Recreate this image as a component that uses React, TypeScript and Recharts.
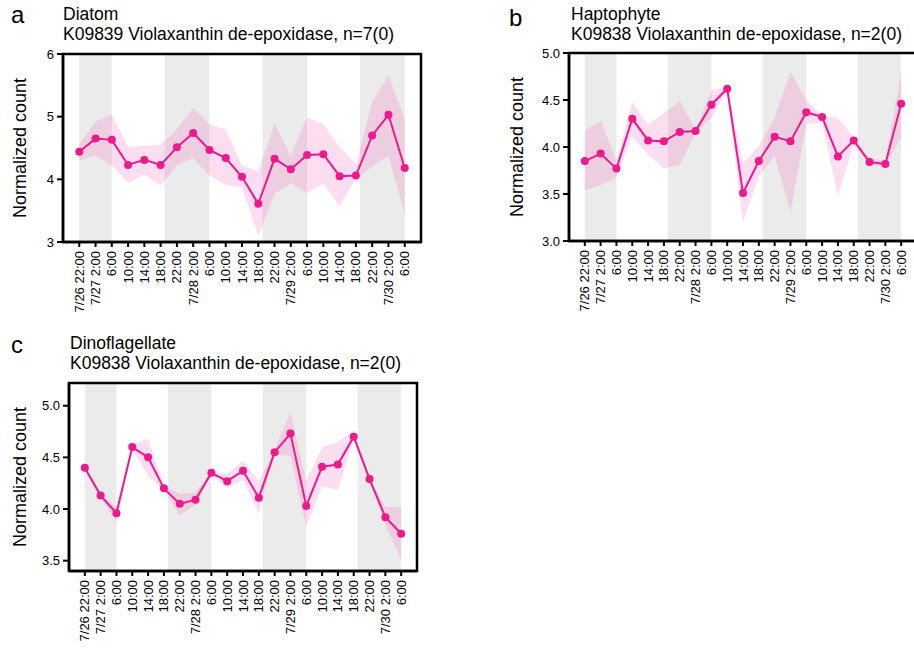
import React from 'react';
import { ComposedChart, Area, Line, XAxis, YAxis, ReferenceArea } from 'recharts';

const FONT = '"Liberation Sans", Arial, Helvetica, sans-serif';
const LINE_COLOR = '#EE1A8C';
const RIBBON_COLOR = '#F555B4';
const NIGHT_COLOR = '#EBEBEB';

// hours since 7/26 22:00
const hours = [0, 4, 8, 12, 16, 20, 24, 28, 32, 36, 40, 44, 48, 52, 56, 60, 64, 68, 72, 76, 80];
const tickLabels = [
  '7/26 22:00', '7/27 2:00', '6:00', '10:00', '14:00', '18:00',
  '22:00', '7/28 2:00', '6:00', '10:00', '14:00', '18:00',
  '22:00', '7/29 2:00', '6:00', '10:00', '14:00', '18:00',
  '22:00', '7/30 2:00', '6:00',
];
const nightStarts = [0, 21, 45, 69];
const nightEnds = [8, 32, 56, 80];

const diatomMean = [4.44, 4.65, 4.63, 4.23, 4.31, 4.23, 4.51, 4.74, 4.47, 4.34, 4.04, 3.61, 4.33, 4.16, 4.39, 4.40, 4.05, 4.06, 4.70, 5.03, 4.18];
const diatomLow = [4.30, 4.38, 4.22, 3.94, 4.07, 3.90, 4.23, 4.34, 4.06, 3.91, 3.87, 3.10, 3.77, 3.94, 3.78, 3.93, 3.58, 4.01, 4.20, 4.38, 3.46];
const diatomHigh = [4.56, 4.92, 5.03, 4.52, 4.53, 4.55, 4.80, 5.14, 4.88, 4.79, 4.22, 4.13, 4.88, 4.38, 4.99, 4.88, 4.52, 4.24, 5.23, 5.66, 4.95];

const haptoMean = [3.85, 3.93, 3.77, 4.30, 4.07, 4.06, 4.16, 4.17, 4.45, 4.62, 3.51, 3.85, 4.11, 4.06, 4.37, 4.32, 3.90, 4.07, 3.84, 3.82, 4.46];
const haptoLow = [3.54, 3.59, 3.68, 4.11, 3.92, 3.77, 3.81, 4.15, 4.31, 4.61, 3.20, 3.69, 3.91, 3.31, 4.24, 4.26, 3.48, 4.02, 3.81, 3.79, 4.11];
const haptoHigh = [4.17, 4.28, 3.85, 4.48, 4.24, 4.36, 4.49, 4.18, 4.60, 4.64, 3.83, 4.01, 4.31, 4.80, 4.50, 4.33, 4.31, 4.10, 3.88, 3.85, 4.79];

const dinoMean = [4.40, 4.13, 3.96, 4.60, 4.50, 4.20, 4.05, 4.09, 4.35, 4.27, 4.37, 4.11, 4.55, 4.73, 4.03, 4.41, 4.43, 4.70, 4.29, 3.92, 3.76];
const dinoLow = [4.39, 4.11, 3.88, 4.58, 4.32, 4.18, 3.94, 4.04, 4.33, 4.20, 4.28, 3.96, 4.53, 4.51, 3.83, 4.22, 4.18, 4.69, 4.27, 3.85, 3.51];
const dinoHigh = [4.41, 4.14, 4.02, 4.63, 4.68, 4.22, 4.15, 4.16, 4.36, 4.34, 4.47, 4.27, 4.57, 4.94, 4.27, 4.60, 4.65, 4.76, 4.30, 4.02, 4.02];

const diatomTicks = [3, 4, 5, 6];
const haptoTicks = [3.0, 3.5, 4.0, 4.5, 5.0];
const dinoTicks = [3.5, 4.0, 4.5, 5.0];

const X_DOMAIN: [number, number] = [-4, 84];

function build(mean: number[], low: number[], high: number[]) {
  return hours.map((h, i) => ({ h, mean: mean[i], range: [low[i], high[i]] }));
}

const XTick = (props: any) => {
  const { x, y, payload } = props;
  const idx = hours.indexOf(payload.value);
  return (
    <text
      x={x}
      y={y}
      transform={`rotate(-90 ${x} ${y})`}
      textAnchor="end"
      dominantBaseline="central"
      fontSize={13}
      fill="#000"
      fontFamily={FONT}
    >
      {tickLabels[idx]}
    </text>
  );
};

type PanelProps = {
  left: number;
  top: number;
  width: number;
  height: number;
  margin: { top: number; right: number; left: number; bottom: number };
  yWidth: number;
  xHeight: number;
  yDomain: [number, number];
  yTicks: number[];
  decimals: number;
  data: any[];
};

function Panel(p: PanelProps) {
  return (
    <div style={{ position: 'absolute', left: p.left, top: p.top }}>
      <ComposedChart width={p.width} height={p.height} data={p.data} margin={p.margin}>
        {nightStarts.map((s, i) => (
          <ReferenceArea
            key={'n' + i}
            x1={s}
            x2={nightEnds[i]}
            y1={p.yDomain[0]}
            y2={p.yDomain[1]}
            fill={NIGHT_COLOR}
            fillOpacity={1}
            stroke="none"
            ifOverflow="visible"
          />
        ))}
        <XAxis
          dataKey="h"
          type="number"
          domain={X_DOMAIN}
          ticks={hours}
          interval={0}
          allowDataOverflow
          height={p.xHeight}
          tick={<XTick />}
          tickSize={5}
          tickMargin={4}
          tickLine={{ stroke: '#000', strokeWidth: 2 }}
          axisLine={{ stroke: '#000', strokeWidth: 2.5 }}
        />
        <YAxis
          type="number"
          domain={p.yDomain}
          ticks={p.yTicks}
          allowDataOverflow
          width={p.yWidth}
          tickSize={6}
          tickMargin={3}
          tickFormatter={(v: number) => v.toFixed(p.decimals)}
          tick={{ fontSize: 13, fill: '#000', fontFamily: FONT }}
          tickLine={{ stroke: '#000', strokeWidth: 2 }}
          axisLine={{ stroke: '#000', strokeWidth: 2.5 }}
        />
        <Area
          type="linear"
          dataKey="range"
          stroke="none"
          fill={RIBBON_COLOR}
          fillOpacity={0.2}
          isAnimationActive={false}
          dot={false}
          activeDot={false}
        />
        <Line
          type="linear"
          dataKey="mean"
          stroke={LINE_COLOR}
          strokeWidth={2}
          dot={{ r: 4, fill: LINE_COLOR, stroke: 'none' }}
          activeDot={false}
          isAnimationActive={false}
        />
        <ReferenceArea
          x1={X_DOMAIN[0]}
          x2={X_DOMAIN[1]}
          y1={p.yDomain[0]}
          y2={p.yDomain[1]}
          fill="none"
          stroke="#000"
          strokeWidth={2.5}
          ifOverflow="visible"
        />
      </ComposedChart>
    </div>
  );
}

export default function App() {
  const txt = { fontFamily: FONT, fill: '#000' } as const;
  return (
    <div style={{ position: 'relative', width: 914, height: 648, overflow: 'hidden', background: '#fff' }}>
      <style>{'body{margin:0}'}</style>
      <Panel
        left={0}
        top={0}
        width={440}
        height={320}
        margin={{ top: 54, right: 19, left: 0, bottom: 0 }}
        yWidth={63}
        xHeight={78}
        yDomain={[3, 6]}
        yTicks={diatomTicks}
        decimals={0}
        data={build(diatomMean, diatomLow, diatomHigh)}
      />
      <Panel
        left={470}
        top={0}
        width={450}
        height={320}
        margin={{ top: 53, right: 3, left: 0, bottom: 0 }}
        yWidth={99}
        xHeight={79}
        yDomain={[3, 5]}
        yTicks={haptoTicks}
        decimals={1}
        data={build(haptoMean, haptoLow, haptoHigh)}
      />
      <Panel
        left={0}
        top={330}
        width={440}
        height={318}
        margin={{ top: 53, right: 23, left: 0, bottom: 0 }}
        yWidth={69}
        xHeight={77}
        yDomain={[3.4, 5.22]}
        yTicks={dinoTicks}
        decimals={1}
        data={build(dinoMean, dinoLow, dinoHigh)}
      />
      <svg width={914} height={648} style={{ position: 'absolute', left: 0, top: 0, pointerEvents: 'none' }}>
        <text x={11} y={23} fontSize={24} {...txt}>a</text>
        <text x={63} y={20} fontSize={17.5} {...txt}>Diatom</text>
        <text x={63} y={40} fontSize={17.5} {...txt}>K09839 Violaxanthin de-epoxidase, n=7(0)</text>
        <text x={26} y={148} fontSize={18} textAnchor="middle" transform="rotate(-90 26 148)" {...txt}>Normalized count</text>

        <text x={509} y={26} fontSize={24} {...txt}>b</text>
        <text x={571} y={20} fontSize={17.5} {...txt}>Haptophyte</text>
        <text x={571} y={40} fontSize={17.5} {...txt}>K09838 Violaxanthin de-epoxidase, n=2(0)</text>
        <text x={523} y={147} fontSize={18} textAnchor="middle" transform="rotate(-90 523 147)" {...txt}>Normalized count</text>

        <text x={11} y={353} fontSize={24} {...txt}>c</text>
        <text x={70} y={349} fontSize={17.5} {...txt}>Dinoflagellate</text>
        <text x={70} y={369} fontSize={17.5} {...txt}>K09838 Violaxanthin de-epoxidase, n=2(0)</text>
        <text x={26} y={477} fontSize={18} textAnchor="middle" transform="rotate(-90 26 477)" {...txt}>Normalized count</text>
      </svg>
    </div>
  );
}
